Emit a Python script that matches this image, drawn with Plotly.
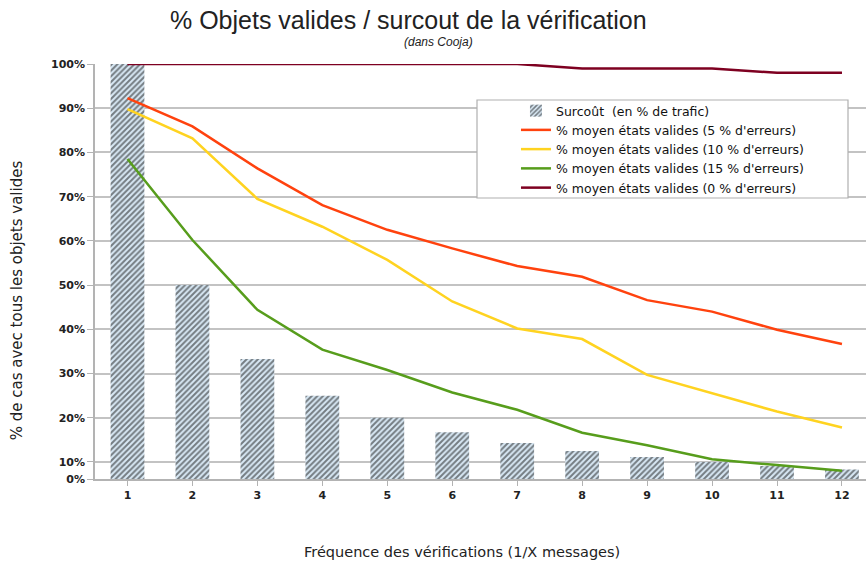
import plotly.graph_objects as go

# Verification frequency (1 check every X messages)
frequence = [1, 2, 3, 4, 5, 6, 7, 8, 9, 10, 11, 12]

# Overhead in % of traffic
surcout = [100, 50, 33.3, 25, 20, 16.7, 14.3, 12.5, 11.1, 10, 9.1, 8.3]

# Mean % of valid states for each error rate
valides_5 = [92.3, 85.9, 76.4, 68.1, 62.5, 58.3, 54.3, 51.9, 46.6, 44.0, 39.9, 36.7]
valides_10 = [89.8, 83.2, 69.5, 63.2, 55.7, 46.3, 40.2, 37.8, 29.7, 25.5, 21.4, 17.8]
valides_15 = [78.5, 60.2, 44.4, 35.4, 30.8, 25.7, 21.8, 16.6, 13.8, 10.6, 9.3, 8.0]
valides_0 = [100, 100, 100, 100, 100, 100, 100, 99, 99, 99, 98, 98]

# Value axis: starts a bit above zero, bottom tick labelled 0 %
y_bas = 6.15
tick_vals = [y_bas, 10, 20, 30, 40, 50, 60, 70, 80, 90, 100]
tick_text = ["0%", "10%", "20%", "30%", "40%", "50%", "60%", "70%", "80%", "90%", "100%"]

FONT = "Liberation Sans"
FONT_W = "DejaVu Sans"

fig = go.Figure()

fig.add_trace(go.Bar(
    x=frequence, y=surcout, name="Surcoût  (en % de trafic)",
    width=0.52,
    marker=dict(
        color="#d9e9f5",
        line=dict(width=0),
        pattern=dict(shape="/", fgcolor="#101010", bgcolor="#d9e9f5",
                     size=4, solidity=0.5),
    ),
))

series = [
    (valides_5, "% moyen états valides (5 % d'erreurs)", "#ff420e"),
    (valides_10, "% moyen états valides (10 % d'erreurs)", "#ffd320"),
    (valides_15, "% moyen états valides (15 % d'erreurs)", "#579d1c"),
    (valides_0, "% moyen états valides (0 % d'erreurs)", "#7e0021"),
]
for vals, nom, couleur in series:
    fig.add_trace(go.Scatter(
        x=frequence, y=vals, name=nom, mode="lines",
        line=dict(color=couleur, width=2.5),
    ))

fig.update_layout(
    width=866, height=567,
    margin=dict(l=95, r=0, t=64, b=88),
    paper_bgcolor="white", plot_bgcolor="white",
    font=dict(family=FONT, size=12, color="#222"),
    showlegend=True,
    legend=dict(
        x=0.546, y=(479 - 96) / 415, xanchor="left", yanchor="top",
        borderwidth=0, bgcolor="rgba(0,0,0,0)",
        font=dict(family=FONT_W, size=12.5, color="#111"),
        tracegroupgap=0, itemwidth=30,
    ),
    bargap=0.48,
)

# Legend frame
fig.add_shape(
    type="rect", xref="paper", yref="paper",
    x0=(477 - 95) / 771, x1=(848 - 95) / 771,
    y0=(479 - 198) / 415, y1=(479 - 100) / 415,
    line=dict(color="#b0b0b0", width=1.2), fillcolor="white", layer="above",
)

fig.update_xaxes(
    range=[0.5, 12.37], tickmode="array", tickvals=frequence,
    ticktext=[str(v) for v in frequence],
    showgrid=False, showline=True, linecolor="#b3b3b3", linewidth=1.5,
    ticks="outside", ticklen=5, tickcolor="#b3b3b3",
    tickfont=dict(family=FONT_W, size=11, color="#222", weight="bold"),
    zeroline=False,
)
fig.update_yaxes(
    range=[y_bas, 100], tickmode="array", tickvals=tick_vals, ticktext=tick_text,
    showgrid=True, gridcolor="#c3c3c3", gridwidth=1.5,
    showline=True, linecolor="#b3b3b3", linewidth=1.5,
    ticks="outside", ticklen=6, tickcolor="#b3b3b3",
    tickfont=dict(family=FONT_W, size=11, color="#222", weight="bold"),
    zeroline=False,
)

fig.add_annotation(
    text="% Objets valides / surcout de la vérification",
    xref="paper", yref="paper", x=0.407, y=(479 - 20) / 415, yanchor="middle",
    showarrow=False, font=dict(family=FONT, size=25, color="#222"),
)
fig.add_annotation(
    text="<i>(dans Cooja)</i>",
    xref="paper", yref="paper", x=0.445, y=(479 - 42) / 415, yanchor="middle",
    showarrow=False, font=dict(family=FONT, size=12, color="#222"),
)
fig.add_annotation(
    text="% de cas avec tous les objets valides",
    xref="paper", yref="paper", x=-0.101, y=0.431, textangle=-90,
    xanchor="center", yanchor="middle",
    showarrow=False, font=dict(family=FONT_W, size=15, color="#222"),
)
fig.add_annotation(
    text="Fréquence des vérifications (1/X messages)",
    xref="paper", yref="paper", x=0.476, y=(479 - 552) / 415, yanchor="middle",
    showarrow=False, font=dict(family=FONT_W, size=14.5, color="#222"),
)

fig.write_html("out.html")
